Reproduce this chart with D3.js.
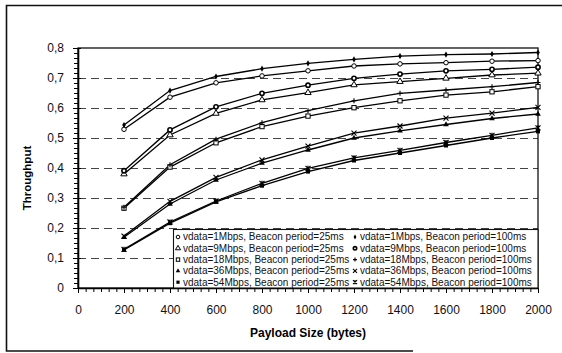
<!DOCTYPE html>
<html>
<head>
<meta charset="utf-8">
<script src="https://cdn.jsdelivr.net/npm/d3@7"></script>
<style>
  body { margin: 0; background: #fff; }
  svg { display: block; font-family: "Liberation Sans", Arial, sans-serif; }
</style>
</head>
<body>
<div id="chart"></div>
<script>
// payload sizes (bytes)
var payload = [200, 400, 600, 800, 1000, 1200, 1400, 1600, 1800, 2000];

// throughput, beacon period = 25ms
var t1_25  = [0.529, 0.636, 0.684, 0.707, 0.724, 0.740, 0.747, 0.751, 0.756, 0.758];
var t9_25  = [0.380, 0.510, 0.582, 0.627, 0.651, 0.677, 0.688, 0.699, 0.710, 0.716];
var t18_25 = [0.266, 0.403, 0.484, 0.538, 0.573, 0.601, 0.624, 0.643, 0.654, 0.671];
var t36_25 = [0.169, 0.280, 0.360, 0.416, 0.460, 0.500, 0.524, 0.545, 0.565, 0.580];
var t54_25 = [0.127, 0.216, 0.287, 0.341, 0.388, 0.425, 0.450, 0.475, 0.500, 0.522];

// throughput, beacon period = 100ms
var t1_100  = [0.543, 0.658, 0.705, 0.731, 0.749, 0.762, 0.773, 0.778, 0.780, 0.785];
var t9_100  = [0.391, 0.527, 0.604, 0.649, 0.676, 0.699, 0.713, 0.724, 0.729, 0.736];
var t18_100 = [0.269, 0.411, 0.496, 0.551, 0.591, 0.624, 0.649, 0.660, 0.671, 0.685];
var t36_100 = [0.173, 0.289, 0.369, 0.427, 0.473, 0.516, 0.540, 0.566, 0.583, 0.602];
var t54_100 = [0.129, 0.220, 0.290, 0.349, 0.399, 0.434, 0.459, 0.485, 0.509, 0.534];

var xTicks = [0, 200, 400, 600, 800, 1000, 1200, 1400, 1600, 1800, 2000];
var yTicks = [0, 0.1, 0.2, 0.3, 0.4, 0.5, 0.6, 0.7, 0.8];

var labels25 = ["vdata=1Mbps, Beacon period=25ms", "vdata=9Mbps, Beacon period=25ms",
  "vdata=18Mbps, Beacon period=25ms", "vdata=36Mbps, Beacon period=25ms",
  "vdata=54Mbps, Beacon period=25ms"];
var labels100 = ["vdata=1Mbps, Beacon period=100ms", "vdata=9Mbps, Beacon period=100ms",
  "vdata=18Mbps, Beacon period=100ms", "vdata=36Mbps, Beacon period=100ms",
  "vdata=54Mbps, Beacon period=100ms"];

var series = [
  {values: t1_25,  marker: 'circle',   label: labels25[0]},
  {values: t9_25,  marker: 'triangle', label: labels25[1]},
  {values: t18_25, marker: 'square',   label: labels25[2]},
  {values: t36_25, marker: 'triFill',  label: labels25[3]},
  {values: t54_25, marker: 'sqFill',   label: labels25[4]},
  {values: t1_100,  marker: 'diamond', label: labels100[0]},
  {values: t9_100,  marker: 'ring',    label: labels100[1]},
  {values: t18_100, marker: 'plus',    label: labels100[2]},
  {values: t36_100, marker: 'cross',   label: labels100[3]},
  {values: t54_100, marker: 'star',    label: labels100[4]}
];

var W = 562, H = 353;
var svg = d3.select('#chart').append('svg')
    .attr('width', W)
    .attr('height', H);

// scanned page frame
svg.append('path')
    .attr('d', 'M562,5.5 H6.5 V351 H413')
    .attr('fill', 'none')
    .attr('stroke', '#111')
    .attr('stroke-width', 1.6);

var x = d3.scaleLinear().domain([0, 2000]).range([78, 538]);
var y = d3.scaleLinear().domain([0, 0.8]).range([288, 48]);

// dashed grid
svg.append('g').attr('class', 'grid')
  .selectAll('line')
  .data(yTicks.filter(d => d > 0 && d < 0.8))
  .enter().append('line')
    .attr('x1', x(0)).attr('x2', x(2000))
    .attr('y1', d => Math.round(y(d)) + 0.5)
    .attr('y2', d => Math.round(y(d)) + 0.5)
    .attr('stroke', '#444')
    .attr('stroke-width', 1.2)
    .attr('stroke-dasharray', '8,5');

// plot box
svg.append('rect')
    .attr('x', x(0)).attr('y', y(0.8))
    .attr('width', x(2000) - x(0)).attr('height', y(0) - y(0.8))
    .attr('fill', 'none')
    .attr('stroke', '#111')
    .attr('stroke-width', 1.3);

// minor ticks
var xMinor = d3.range(0, 2000.01, 200 / 6);
var yMinor = d3.range(0, 0.8001, 0.1 / 6);
svg.append('g')
    .attr('transform', 'translate(0,' + y(0) + ')')
    .call(d3.axisBottom(x).tickValues(xMinor).tickSize(4).tickSizeOuter(0).tickFormat(''))
    .call(g => g.select('.domain').remove());
svg.append('g')
    .attr('transform', 'translate(' + x(0) + ',0)')
    .call(d3.axisLeft(y).tickValues(yMinor).tickSize(4).tickSizeOuter(0).tickFormat(''))
    .call(g => g.select('.domain').remove());

// major axes
var fmt = d3.format('.1f');
var xAxis = svg.append('g')
    .attr('transform', 'translate(0,' + y(0) + ')')
    .call(d3.axisBottom(x).tickValues(xTicks).tickSize(5).tickSizeOuter(0).tickPadding(12)
      .tickFormat(d3.format('d')));
xAxis.select('.domain').attr('stroke-width', 1.6);
xAxis.selectAll('text').attr('font-size', 12).attr('fill', '#111')
    .attr('font-family', '"Liberation Sans", Arial, sans-serif');

var yAxis = svg.append('g')
    .attr('transform', 'translate(' + x(0) + ',0)')
    .call(d3.axisLeft(y).tickValues(yTicks).tickSize(5).tickSizeOuter(0).tickPadding(9)
      .tickFormat(d => d === 0 ? '0' : fmt(d).replace('.', ',')));
yAxis.select('.domain').attr('stroke-width', 1.6);
yAxis.selectAll('text').attr('font-size', 12).attr('fill', '#111')
    .attr('font-family', '"Liberation Sans", Arial, sans-serif');
yAxis.selectAll('.tick').append('line').attr('x2', 3).attr('stroke', 'currentColor');

// axis titles
svg.append('text')
    .attr('x', (x(0) + x(2000)) / 2).attr('y', 337)
    .attr('text-anchor', 'middle')
    .attr('font-size', 12).attr('font-weight', 'bold')
    .text('Payload Size (bytes)');
svg.append('text')
    .attr('transform', 'translate(31,178) rotate(-90)')
    .attr('text-anchor', 'middle')
    .attr('font-size', 11.5).attr('font-weight', 'bold')
    .text('Throughput');

// markers
function drawMarker(g, type, s) {
  var r = s / 2;
  if (type === 'circle') {
    g.append('circle').attr('r', r * 0.9).attr('fill', '#fff').attr('stroke', '#000').attr('stroke-width', 1);
  } else if (type === 'ring') {
    g.append('circle').attr('r', r * 0.85).attr('fill', '#fff').attr('stroke', '#000').attr('stroke-width', 1.6);
  } else if (type === 'triangle') {
    g.append('path').attr('d', d3.symbol(d3.symbolTriangle, s * s * 0.7)())
      .attr('fill', '#fff').attr('stroke', '#000').attr('stroke-width', 1);
  } else if (type === 'triFill') {
    g.append('path').attr('d', d3.symbol(d3.symbolTriangle, s * s * 0.55)()).attr('fill', '#000');
  } else if (type === 'square') {
    g.append('rect').attr('x', -r * 0.85).attr('y', -r * 0.85).attr('width', r * 1.7).attr('height', r * 1.7)
      .attr('fill', '#fff').attr('stroke', '#000').attr('stroke-width', 1);
  } else if (type === 'sqFill') {
    g.append('rect').attr('x', -r * 0.8).attr('y', -r * 0.8).attr('width', r * 1.6).attr('height', r * 1.6).attr('fill', '#000');
  } else if (type === 'diamond') {
    g.append('path').attr('d', d3.symbol(d3.symbolDiamond, s * s * 0.45)()).attr('fill', '#000');
  } else if (type === 'plus') {
    g.append('path').attr('d', 'M' + (-r) + ',0H' + r + 'M0,' + (-r) + 'V' + r)
      .attr('stroke', '#000').attr('stroke-width', 1.1);
  } else if (type === 'cross') {
    g.append('path').attr('d', 'M' + (-r) + ',' + (-r) + 'L' + r + ',' + r + 'M' + (-r) + ',' + r + 'L' + r + ',' + (-r))
      .attr('stroke', '#000').attr('stroke-width', 1.1);
  } else if (type === 'star') {
    g.append('path').attr('d', 'M' + (-r) + ',' + (-r) + 'L' + r + ',' + r + 'M' + (-r) + ',' + r + 'L' + r + ',' + (-r) + 'M0,' + (-r) + 'V' + r)
      .attr('stroke', '#000').attr('stroke-width', 1.2);
  }
}

// lines
var line = d3.line()
    .x((d, i) => x(payload[i]))
    .y(d => y(d));

var plot = svg.append('g').attr('class', 'series');
plot.selectAll('.data-line')
    .data(series)
  .enter().append('path')
    .attr('class', 'data-line')
    .attr('d', d => line(d.values))
    .attr('fill', 'none')
    .attr('stroke', '#000')
    .attr('stroke-width', 1.3);

series.forEach(function(s) {
  s.values.forEach(function(v, i) {
    var g = plot.append('g').attr('transform', 'translate(' + x(payload[i]) + ',' + y(v) + ')');
    drawMarker(g, s.marker, 5);
  });
});

// legend
var lg = svg.append('g').attr('class', 'legend');
lg.append('rect')
    .attr('x', 173.5).attr('y', 229.5)
    .attr('width', x(2000) - 173.5).attr('height', y(0) - 229.5)
    .attr('fill', '#fff')
    .attr('stroke', '#111')
    .attr('stroke-width', 1.1);

var rows = [237, 248.3, 259.6, 270.9, 282.2];
series.forEach(function(s, i) {
  var col = i < 5 ? 0 : 1;
  var row = i % 5;
  var mx = col === 0 ? 178 : 355;
  var g = lg.append('g').attr('transform', 'translate(' + mx + ',' + rows[row] + ')');
  drawMarker(g, s.marker, 4);
  lg.append('text')
      .attr('x', mx + 5).attr('y', rows[row] + 3.4)
      .attr('font-size', 10)
      .attr('fill', '#111')
      .text(s.label);
});
</script>
</body>
</html>
